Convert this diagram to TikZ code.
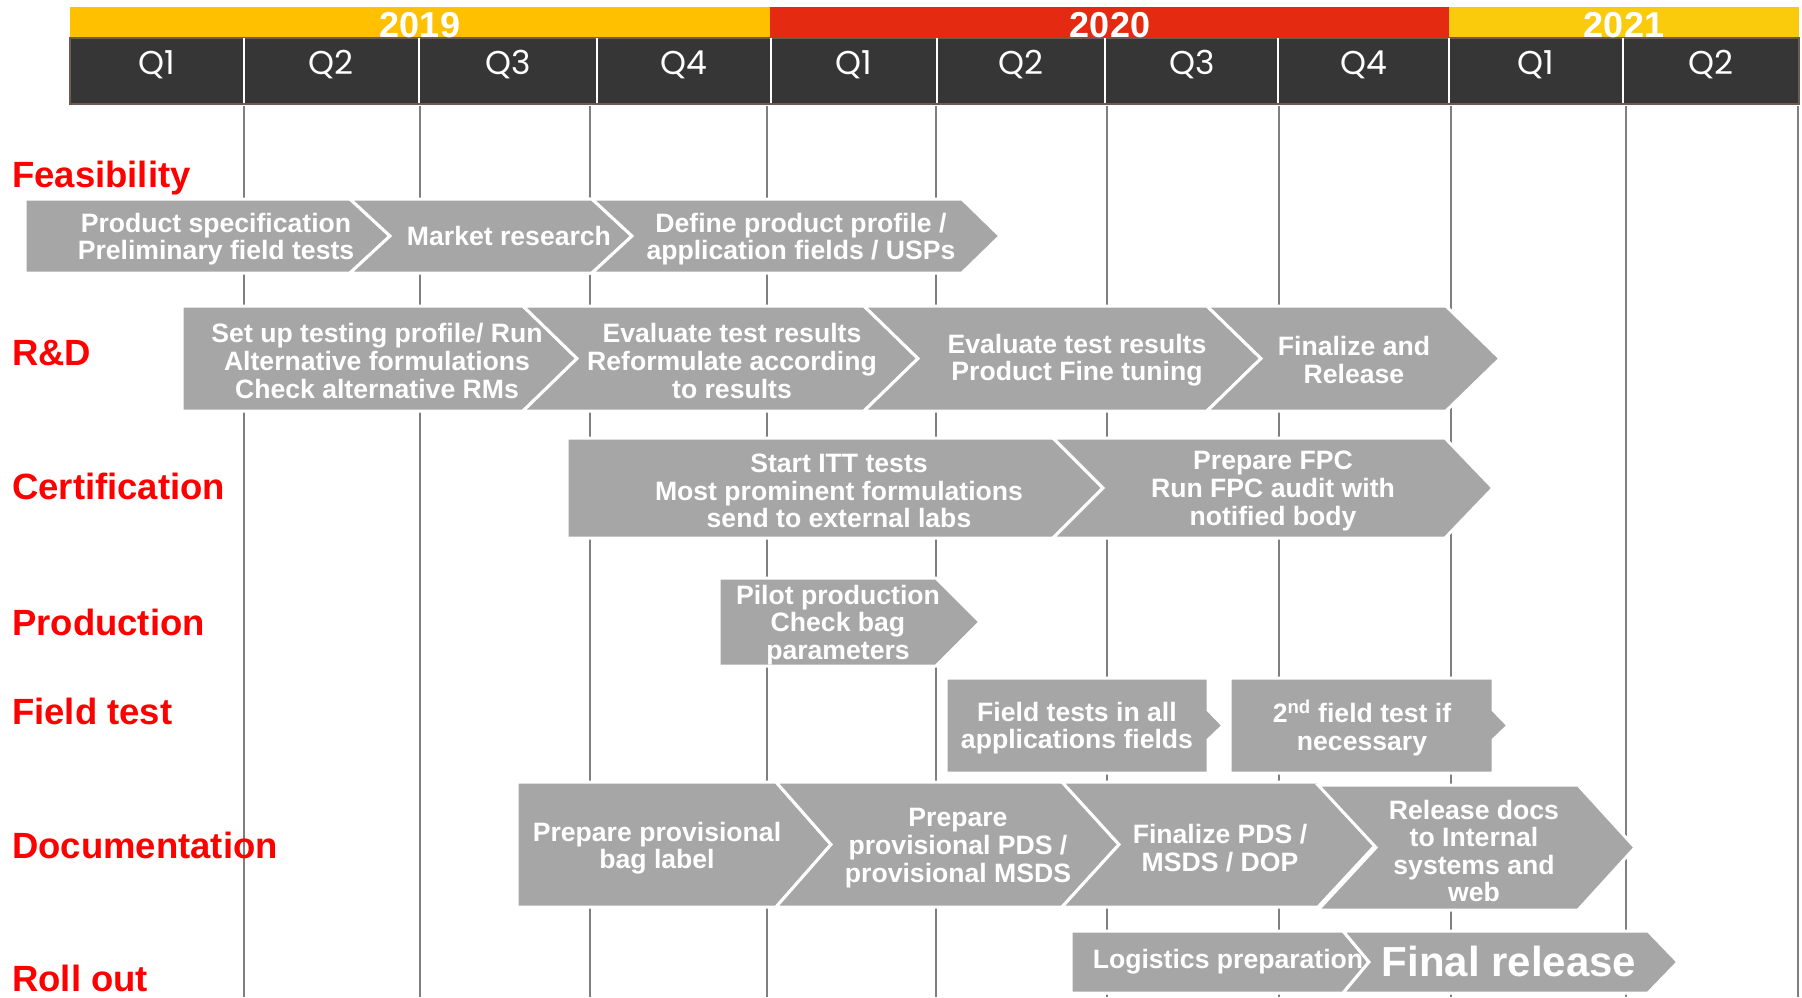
\documentclass[tikz,border=0pt]{standalone}
\usepackage{fontspec}
\setmainfont{Liberation Sans}
\newfontfamily\quarterfont{Poppins}

\definecolor{yearA}{HTML}{FFC000}
\definecolor{yearB}{HTML}{E42A10}
\definecolor{yearC}{HTML}{F9CB0C}
\definecolor{band}{HTML}{363636}
\definecolor{bandedge}{HTML}{6B5B52}
\definecolor{phasegray}{HTML}{A6A6A6}
\definecolor{gridgray}{HTML}{7F7F7F}
\definecolor{rowred}{HTML}{FF0000}

\tikzset{
  phase/.style={fill=phasegray, draw=white, line width=3pt},
  phasetext/.style={text=white, font=\fontsize{26.6}{27.6}\selectfont\bfseries, align=center, inner sep=0pt, yshift=-3pt},
  rowlabel/.style={text=rowred, font=\fontsize{36.5}{40}\selectfont\bfseries, anchor=base west, inner sep=0pt},
  yeartext/.style={text=white, font=\fontsize{36}{40}\selectfont\bfseries, anchor=base, inner sep=0pt},
  quartertext/.style={text=white, font=\quarterfont\fontsize{33}{36}\selectfont, anchor=base, inner sep=0pt},
  gridline/.style={draw=gridgray, line width=2pt}
}

% left, right, top, bottom, tip depth, notch depth
\newcommand{\chevron}[6]{%
  \filldraw [phase] (#1,#3) -- (#2,#3) -- ({#2+#5},{(#3+#4)/2}) -- (#2,#4) -- (#1,#4) -- ({#1+#6},{(#3+#4)/2}) -- cycle;}
% left, right, top, bottom (small point on the right)
\newcommand{\tagbox}[4]{%
  \filldraw [phase] (#1,#3) -- (#2,#3) -- (#2,{#3+32}) -- ({#2+15},{(#3+#4)/2}) -- (#2,{#4-33}) -- (#2,#4) -- (#1,#4) -- cycle;}

\begin{document}
\begin{tikzpicture}[x=1pt, y=-1pt]
\useasboundingbox (0,0) rectangle (1802,997);

% grid
\draw [gridline] (244,106) -- (244,997)  (420,106) -- (420,997)  (590,106) -- (590,997)
  (767,106) -- (767,997)  (936,106) -- (936,997)  (1107,106) -- (1107,997)
  (1279,106) -- (1279,997)  (1451,106) -- (1451,997)  (1626,106) -- (1626,997)
  (1798,106) -- (1798,997);

% header
\fill [yearA] (70,7) rectangle (770,38);
\fill [yearB] (770,7) rectangle (1449,38);
\fill [yearC] (1449,7) rectangle (1799,38);
\filldraw [fill=band, draw=bandedge, line width=1.5pt] (70,38) rectangle (1799,104);
\draw [white, line width=2pt] (244,38) -- (244,103)  (419,38) -- (419,103)  (597,38) -- (597,103)
  (771,38) -- (771,103)  (937,38) -- (937,103)  (1105,38) -- (1105,103)
  (1278,38) -- (1278,103)  (1449,38) -- (1449,103)  (1623,38) -- (1623,103);
\node [yeartext] (y2019) at (420,37) {2019};
\node [yeartext] (y2020) at (1110,37) {2020};
\node [yeartext] (y2021) at (1624,37) {2021};
\node [quartertext] (q1) at (157,74) {Q1};
\node [quartertext] (q2) at (331,74) {Q2};
\node [quartertext] (q3) at (508,74) {Q3};
\node [quartertext] (q4) at (684,74) {Q4};
\node [quartertext] (q5) at (854,74) {Q1};
\node [quartertext] (q6) at (1021,74) {Q2};
\node [quartertext] (q7) at (1192,74) {Q3};
\node [quartertext] (q8) at (1364,74) {Q4};
\node [quartertext] (q9) at (1536,74) {Q1};
\node [quartertext] (q10) at (1711,74) {Q2};

% row labels
\node [rowlabel] (feas) at (12,187) {Feasibility};
\node [rowlabel] (rnd) at (12,365) {R\&D};
\node [rowlabel] (cert) at (12,499) {Certification};
\node [rowlabel] (prod) at (12,635) {Production};
\node [rowlabel] (field) at (12,724) {Field test};
\node [rowlabel] (doc) at (12,858) {Documentation};
\node [rowlabel] (roll) at (12,991) {Roll out};

% feasibility
\chevron{25}{350}{199}{273}{40}{0}
\chevron{350}{592}{199}{273}{40}{40}
\chevron{592}{962}{199}{273}{38}{40}
\node [phasetext] (feas1) at (216,236) {Product specification\\Preliminary field tests};
\node [phasetext, yshift=3pt] (feas2) at (509,236) {Market research};
\node [phasetext] (feas3) at (801,236) {Define product profile /\\application fields / USPs};

% R&D
\chevron{182}{523}{306}{411}{54}{0}
\chevron{523}{864}{306}{411}{54}{54}
\chevron{864}{1207}{306}{411}{54}{54}
\chevron{1207}{1446}{306}{411}{54}{54}
\node [phasetext] (rnd1) at (377,358) {Set up testing profile/ Run\\Alternative formulations\\Check alternative RMs};
\node [phasetext] (rnd2) at (732,358) {Evaluate test results\\Reformulate according\\to results};
\node [phasetext] (rnd3) at (1077,357) {Evaluate test results\\Product Fine tuning};
\node [phasetext] (rnd4) at (1354,357) {Finalize and\\Release};

% certification
\chevron{567}{1053}{438}{538}{50}{0}
\chevron{1053}{1445}{438}{538}{48}{50}
\node [phasetext] (cert1) at (839,488) {Start ITT tests\\Most prominent formulations\\send to external labs};
\node [phasetext] (cert2) at (1273,488) {Prepare FPC\\Run FPC audit with\\notified body};

% production
\chevron{719}{936}{578}{666}{44}{0}
\node [phasetext] (prod1) at (838,622) {Pilot production\\Check bag\\parameters};

% field test
\tagbox{946}{1208}{678}{773}
\tagbox{1230}{1493}{678}{773}
\node [phasetext] (field1) at (1077,725) {Field tests in all\\applications fields};
\node [phasetext] (field2) at (1362,725) {2\textsuperscript{nd} field test if\\necessary};

% documentation
\chevron{517}{776}{782}{907}{55}{0}
\chevron{776}{1062}{782}{907}{57}{55}
\chevron{1062}{1318}{782}{907}{58}{57}
\chevron{1318}{1578}{785}{910}{57}{58}
\node [phasetext] (doc1) at (657,845) {Prepare provisional\\bag label};
\node [phasetext] (doc2) at (958,845) {Prepare\\provisional PDS /\\provisional MSDS};
\node [phasetext] (doc3) at (1220,845) {Finalize PDS /\\MSDS / DOP};
\node [phasetext] (doc4) at (1474,848) {Release docs\\to Internal\\systems and\\web};

% roll out
\chevron{1071}{1343}{931}{993}{26}{0}
\chevron{1343}{1648}{931}{993}{30}{26}
\node [phasetext, yshift=3pt] (roll1) at (1228,962) {Logistics preparation};
\node [phasetext, yshift=4pt, font=\fontsize{42}{44}\selectfont\bfseries] (roll2) at (1509,962) {Final release};
\end{tikzpicture}
\end{document}
